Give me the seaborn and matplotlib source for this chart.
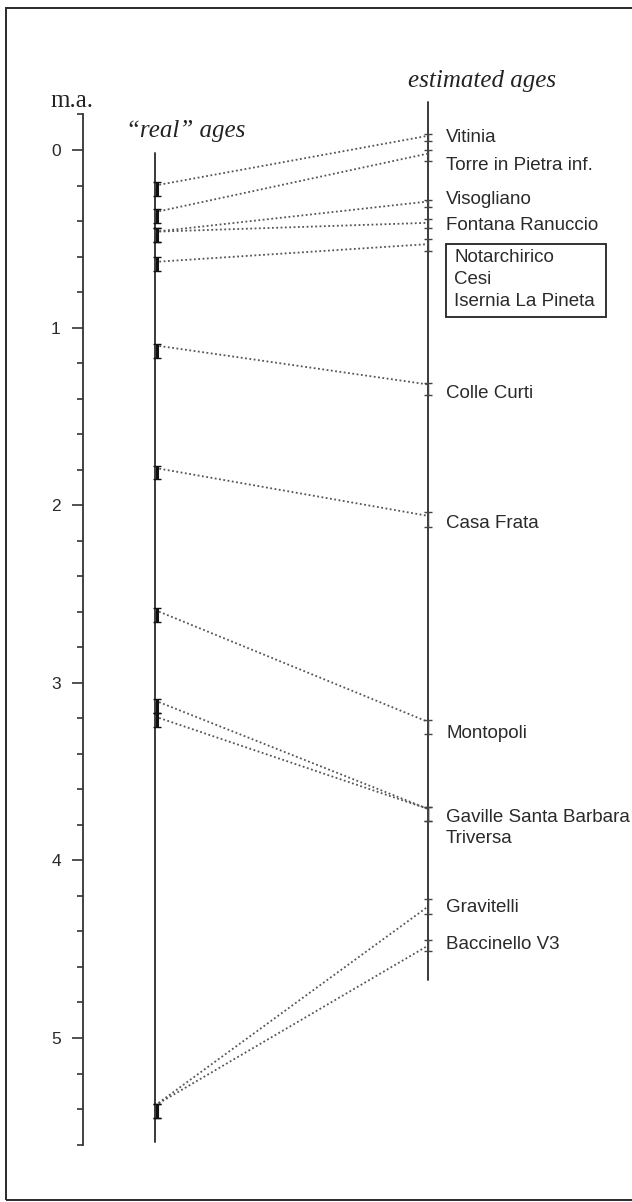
import numpy as np
import pandas as pd
import matplotlib
matplotlib.use("Agg")
import matplotlib.pyplot as plt
import seaborn as sns
from matplotlib.patches import Rectangle
from matplotlib.ticker import FixedLocator

# ---------------- data (million years) ----------------
sites = ["Vitinia", "Torre in Pietra inf.", "Visogliano", "Fontana Ranuccio",
         "Notarchirico/Cesi/Isernia", "Colle Curti", "Casa Frata", "Montopoli",
         "Gaville Santa Barbara", "Triversa", "Gravitelli", "Baccinello V3"]
real_age = [0.20, 0.35, 0.46, 0.46, 0.63, 1.10, 1.79, 2.59, 3.10, 3.19, 5.38, 5.38]
real_lo = [0.18, 0.33, 0.44, 0.44, 0.60, 1.09, 1.78, 2.58, 3.09, 3.17, 5.37, 5.37]
real_hi = [0.26, 0.41, 0.52, 0.52, 0.68, 1.17, 1.85, 2.66, 3.17, 3.25, 5.45, 5.45]
est_age = [-0.08, 0.02, 0.29, 0.41, 0.53, 1.32, 2.06, 3.22, 3.71, 3.71, 4.26, 4.48]
est_lo = [-0.09, 0.00, 0.28, 0.39, 0.50, 1.31, 2.04, 3.21, 3.70, 3.70, 4.22, 4.45]
est_hi = [-0.05, 0.06, 0.32, 0.44, 0.57, 1.38, 2.12, 3.29, 3.78, 3.78, 4.30, 4.51]

label_text = ["Vitinia", "Torre in Pietra inf.", "Visogliano", "Fontana Ranuccio",
              "Colle Curti", "Casa Frata", "Montopoli", "Gaville Santa Barbara",
              "Triversa", "Gravitelli", "Baccinello V3"]
box_text = ["Notarchirico", "Cesi", "Isernia La Pineta"]
major_ticks = [0, 1, 2, 3, 4, 5]
tick_labels = ["0", "1", "2", "3", "4", "5"]

# ---------------- layout (not data) ----------------
label_base = [-0.045, 0.113, 0.304, 0.45, 1.398, 2.127, 3.309, 3.782, 3.90, 4.289, 4.50]
box_base = [0.633, 0.755, 0.878]
X_AXIS, X_REAL, X_EST, X_LAB, X_BOXTXT = 83, 155, 428, 446, 454
W, H = 632, 1202
PX0, PXU = 150.0, 177.6          # pixel of 0 Ma and pixels per Ma

sns.set_theme(style="white")
plt.rcParams["font.family"] = ["Liberation Sans", "DejaVu Sans"]

fig = plt.figure(figsize=(W / 100, H / 100), dpi=100)
fig.patch.set_facecolor("white")
ax = fig.add_axes([0, 0, 1, 1])
ax.set_facecolor("none")
ax.set_xlim(0, W)
ax.set_ylim((H - PX0) / PXU, -PX0 / PXU)

# outer frame
fig.patches.append(Rectangle((6 / W, 2.5 / H), 700 / W, (1199.5 - 8) / H,
                             transform=fig.transFigure, fill=False,
                             edgecolor="#2a2a2a", linewidth=1.4))

# left m.a. axis
for s in ["top", "right", "bottom"]:
    ax.spines[s].set_visible(False)
ax.spines["left"].set_position(("data", X_AXIS))
ax.spines["left"].set_bounds(-0.2, 5.6)
ax.spines["left"].set_color("#333333")
ax.spines["left"].set_linewidth(1.3)
ax.set_xticks([])
ax.yaxis.set_major_locator(FixedLocator(major_ticks))
ax.set_yticklabels(tick_labels)
minor = [round(v, 1) for v in np.arange(-0.2, 5.61, 0.2) if abs(v - round(v)) > 1e-6]
ax.yaxis.set_minor_locator(FixedLocator(minor))
ax.tick_params(axis="y", which="major", direction="out", length=8, width=1.2,
               color="#333333", pad=8, labelsize=12.5, labelcolor="#2a2a2a", left=True)
ax.tick_params(axis="y", which="minor", direction="out", length=4.5, width=1.2,
               color="#333333", left=True)

# vertical age columns
ax.plot([X_REAL, X_REAL], [0.017, 5.586], color="#3a3a3a", lw=1.4)
ax.plot([X_EST, X_EST], [-0.27, 4.674], color="#3a3a3a", lw=1.4)

# connecting dotted lines (seaborn)
df = pd.DataFrame({
    "site": sites * 2,
    "x": [X_REAL] * len(sites) + [X_EST] * len(sites),
    "age": real_age + est_age,
})
sns.lineplot(data=df, x="x", y="age", units="site", estimator=None, sort=False,
             color="#555555", lw=1.3, linestyle=(0, (1, 1.4)), ax=ax, legend=False)
ax.set_xlabel("")
ax.set_ylabel("")
ax.set_xlim(0, W)
ax.set_ylim((H - PX0) / PXU, -PX0 / PXU)

# error bars
rl, rh = np.array(real_lo), np.array(real_hi)
rm = (rl + rh) / 2
ax.errorbar([X_REAL + 1.5] * len(rm), rm, yerr=[rm - rl, rh - rm], fmt="none",
            ecolor="#111111", elinewidth=2.2, capsize=3, capthick=1.0)
el, eh = np.array(est_lo), np.array(est_hi)
em = (el + eh) / 2
ax.errorbar([X_EST] * len(em), em, yerr=[em - el, eh - em], fmt="none",
            ecolor="#444444", elinewidth=1.0, capsize=3.2, capthick=1.0)

# labels
for t, y in zip(label_text, label_base):
    ax.text(X_LAB, y, t, fontsize=13.5, color="#2a2a2a", va="baseline", ha="left")
for t, y in zip(box_text, box_base):
    ax.text(X_BOXTXT, y, t, fontsize=13.5, color="#2a2a2a", va="baseline", ha="left")
ax.add_patch(Rectangle((446, (244 - PX0) / PXU), 160, (316.7 - 244) / PXU,
                       fill=False, edgecolor="#222222", linewidth=1.3))

# titles
serif = ["Liberation Serif", "DejaVu Serif"]
ax.text(482, (87 - PX0) / PXU, "estimated ages", family=serif, style="italic",
        fontsize=18, color="#222222", ha="center", va="baseline")
ax.text(186, (136.7 - PX0) / PXU, "\u201creal\u201d ages", family=serif, style="italic",
        fontsize=18, color="#222222", ha="center", va="baseline")
ax.text(72, (107 - PX0) / PXU, "m.a.", family=serif, fontsize=18,
        color="#222222", ha="center", va="baseline")

fig.savefig("out.png", dpi=100, facecolor="white")
